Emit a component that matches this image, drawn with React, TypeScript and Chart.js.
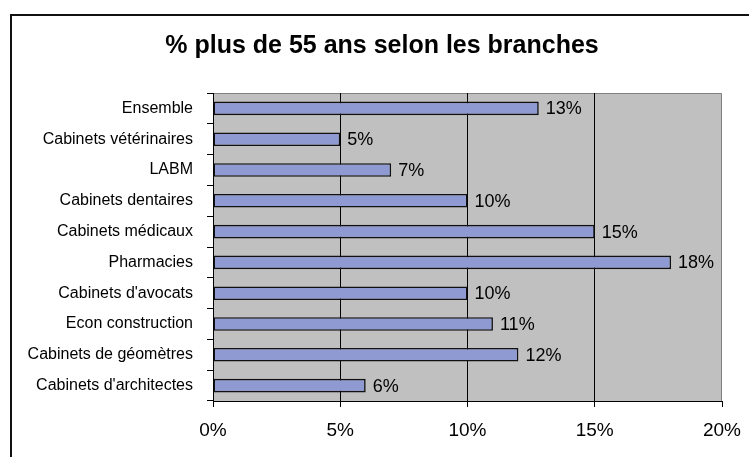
import React, { useEffect, useRef } from "react";
import { Chart, registerables } from "chart.js";

Chart.register(...registerables);

const TITLE = "% plus de 55 ans selon les branches";
const categories = [
  "Ensemble",
  "Cabinets vétérinaires",
  "LABM",
  "Cabinets dentaires",
  "Cabinets médicaux",
  "Pharmacies",
  "Cabinets d'avocats",
  "Econ construction",
  "Cabinets de géomètres",
  "Cabinets d'architectes",
];
const values = [12.8, 5, 7, 10, 15, 18, 10, 11, 12, 6];
const valueLabels = ["13%", "5%", "7%", "10%", "15%", "18%", "10%", "11%", "12%", "6%"];
const xTicks = [0, 5, 10, 15, 20];

const FONT = "'Liberation Sans', Arial, sans-serif";

const plotBg = {
  id: "plotBg",
  beforeDraw(chart: any) {
    const { ctx, chartArea: a } = chart;
    ctx.save();
    ctx.fillStyle = "#C0C0C0";
    ctx.fillRect(a.left, a.top, a.right - a.left, a.bottom - a.top);
    ctx.strokeStyle = "#808080";
    ctx.lineWidth = 1;
    ctx.beginPath();
    ctx.moveTo(a.left, a.top + 0.5);
    ctx.lineTo(a.right - 0.5, a.top + 0.5);
    ctx.lineTo(a.right - 0.5, a.bottom);
    ctx.stroke();
    ctx.restore();
  },
};

const titlePlugin = {
  id: "fixedTitle",
  afterDraw(chart: any) {
    const { ctx } = chart;
    ctx.save();
    ctx.font = `bold 25px ${FONT}`;
    ctx.fillStyle = "#000";
    ctx.textAlign = "center";
    ctx.textBaseline = "alphabetic";
    ctx.fillText(TITLE, 382, 53);
    ctx.restore();
  },
};

const valueLabelPlugin = {
  id: "valueLabels",
  afterDatasetsDraw(chart: any) {
    const { ctx } = chart;
    const meta = chart.getDatasetMeta(0);
    ctx.save();
    ctx.font = `18px ${FONT}`;
    ctx.fillStyle = "#000";
    ctx.textAlign = "left";
    ctx.textBaseline = "middle";
    meta.data.forEach((bar: any, i: number) => {
      ctx.fillText(valueLabels[i], bar.x + 7, bar.y + 1);
    });
    ctx.restore();
  },
};

export default function App() {
  const ref = useRef<HTMLCanvasElement>(null);
  useEffect(() => {
    const chart = new Chart(ref.current!, {
      type: "bar",
      data: {
        labels: categories,
        datasets: [
          {
            data: values,
            backgroundColor: "#8F9AD3",
            borderColor: "#111",
            borderWidth: 1.6,
            borderSkipped: false,
            barPercentage: 0.44,
            categoryPercentage: 1,
          },
        ],
      },
      options: {
        indexAxis: "y",
        animation: false,
        responsive: false,
        layout: { padding: { top: 93, left: 0, right: 27, bottom: 0 } },
        plugins: {
          legend: { display: false },
          tooltip: { enabled: false },
          title: { display: false },
        },
        scales: {
          x: {
            min: 0,
            max: 20,
            afterFit: (s: any) => {
              s.height = 56;
              s.paddingLeft = 0;
              s.paddingRight = 0;
            },
            afterBuildTicks: (s: any) => {
              s.ticks = xTicks.map((v) => ({ value: v }));
            },
            ticks: {
              color: "#000",
              font: { family: FONT, size: 19 },
              padding: 12,
              callback: (v: any) => v + "%",
            },
            grid: {
              color: (c: any) =>
                c.tick && (c.tick.value === 20 || c.tick.value === 0) ? "rgba(0,0,0,0)" : "#000",
              tickColor: "#000",
              tickLength: 6,
              lineWidth: 1,
            },
            border: { display: true, color: "#000", width: 1 },
          },
          y: {
            afterFit: (s: any) => {
              s.width = 213;
            },
            ticks: {
              color: "#000",
              font: { family: FONT, size: 16 },
              padding: 14,
            },
            grid: {
              offset: true,
              drawOnChartArea: false,
              drawTicks: true,
              tickLength: 6,
              tickColor: "#000",
              color: "#000",
            },
            border: { display: true, color: "#000", width: 1 },
          },
        },
      },
      plugins: [plotBg, valueLabelPlugin, titlePlugin],
    } as any);
    return () => chart.destroy();
  }, []);
  return (
    <div
      style={{
        position: "fixed",
        left: 0,
        top: 0,
        width: 749,
        height: 457,
        overflow: "hidden",
        background: "#fff",
      }}
    >
      <canvas ref={ref} width={749} height={457} style={{ display: "block", width: 749, height: 457 }} />
      <div
        style={{
          position: "absolute",
          left: 10,
          top: 14,
          width: 800,
          height: 500,
          borderTop: "2px solid #111",
          borderLeft: "2px solid #111",
          pointerEvents: "none",
        }}
      />
    </div>
  );
}
